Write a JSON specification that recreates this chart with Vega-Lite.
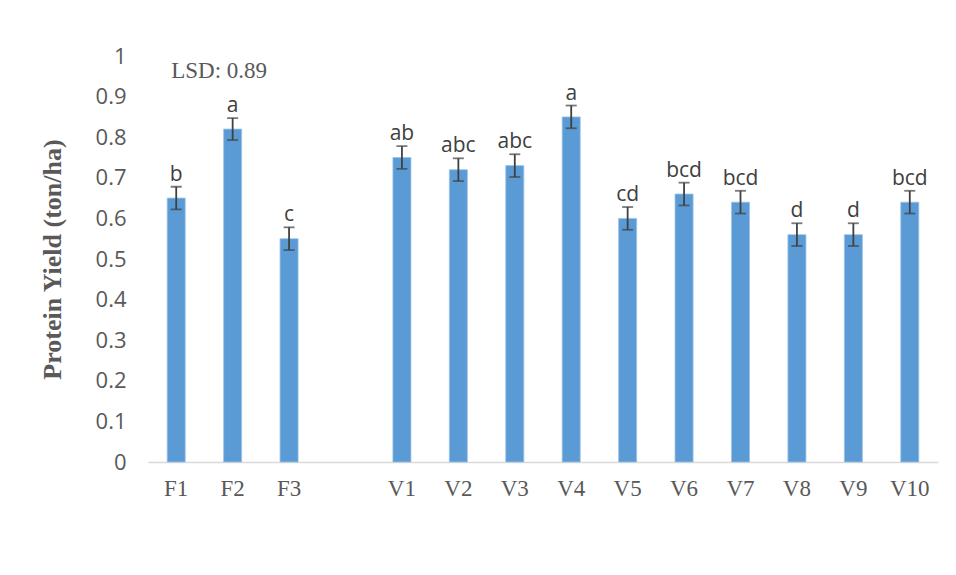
{
  "$schema": "https://vega.github.io/schema/vega-lite/v6.json",
  "width": 790,
  "height": 406,
  "autosize": {"type": "none"},
  "padding": {"left": 148, "top": 56, "right": 18, "bottom": 113},
  "background": "white",
  "config": {"view": {"stroke": null}},
  "data": {"values": [
    {"cat": "F1", "value": 0.65, "lo": 0.622, "hi": 0.678, "letter": "b"},
    {"cat": "F2", "value": 0.82, "lo": 0.793, "hi": 0.847, "letter": "a"},
    {"cat": "F3", "value": 0.55, "lo": 0.522, "hi": 0.578, "letter": "c"},
    {"cat": "V1", "value": 0.75, "lo": 0.722, "hi": 0.778, "letter": "ab"},
    {"cat": "V2", "value": 0.72, "lo": 0.692, "hi": 0.748, "letter": "abc"},
    {"cat": "V3", "value": 0.73, "lo": 0.702, "hi": 0.758, "letter": "abc"},
    {"cat": "V4", "value": 0.85, "lo": 0.822, "hi": 0.878, "letter": "a"},
    {"cat": "V5", "value": 0.60, "lo": 0.572, "hi": 0.628, "letter": "cd"},
    {"cat": "V6", "value": 0.66, "lo": 0.632, "hi": 0.688, "letter": "bcd"},
    {"cat": "V7", "value": 0.64, "lo": 0.612, "hi": 0.668, "letter": "bcd"},
    {"cat": "V8", "value": 0.56, "lo": 0.532, "hi": 0.588, "letter": "d"},
    {"cat": "V9", "value": 0.56, "lo": 0.532, "hi": 0.588, "letter": "d"},
    {"cat": "V10", "value": 0.64, "lo": 0.612, "hi": 0.668, "letter": "bcd"}
  ]},
  "encoding": {
    "x": {
      "field": "cat", "type": "nominal",
      "scale": {"domain": ["F1","F2","F3"," ","V1","V2","V3","V4","V5","V6","V7","V8","V9","V10"], "paddingInner": 0.68, "paddingOuter": 0.34},
      "axis": {"title": null, "labelAngle": 0, "ticks": false, "domainColor": "#d9d9d9", "domainWidth": 1.5, "labelFont": "Liberation Serif", "labelFontSize": 23, "labelColor": "#595959", "labelPadding": 15}
    }
  },
  "layer": [
    {
      "mark": {"type": "bar", "color": "#5B9BD5", "stroke": "#9DC3E6", "strokeWidth": 0.8},
      "encoding": {
        "y": {
          "field": "value", "type": "quantitative", "title": "Protein Yield (ton/ha)",
          "scale": {"domain": [0, 1]},
          "axis": {"values": [0,0.1,0.2,0.3,0.4,0.5,0.6,0.7,0.8,0.9,1], "labelExpr": "'' + datum.value", "grid": false, "domain": false, "ticks": false, "labelFont": "Open Sans", "labelFontSize": 22, "labelColor": "#595959", "labelPadding": 22, "titleFont": "Liberation Serif", "titleFontWeight": "bold", "titleFontSize": 26, "titleColor": "#595959", "titlePadding": 30}
        }
      }
    },
    {
      "mark": {"type": "errorbar", "ticks": {"size": 11, "color": "#404040", "thickness": 1.8}, "rule": {"color": "#404040", "strokeWidth": 1.8}},
      "encoding": {
        "y": {"field": "lo", "type": "quantitative", "title": "Protein Yield (ton/ha)"},
        "y2": {"field": "hi"}
      }
    },
    {
      "mark": {"type": "text", "font": "Open Sans", "fontSize": 21, "color": "#404040", "baseline": "alphabetic", "dy": -6},
      "encoding": {
        "y": {"field": "hi", "type": "quantitative", "title": "Protein Yield (ton/ha)"},
        "text": {"field": "letter"}
      }
    },
    {
      "data": {"values": [{"cat": "F1", "y": 0.962, "label": "LSD: 0.89"}]},
      "mark": {"type": "text", "font": "Liberation Serif", "fontSize": 23, "color": "#595959", "align": "left", "baseline": "middle", "dx": -5},
      "encoding": {
        "y": {"field": "y", "type": "quantitative", "title": "Protein Yield (ton/ha)"},
        "text": {"field": "label"}
      }
    }
  ]
}
